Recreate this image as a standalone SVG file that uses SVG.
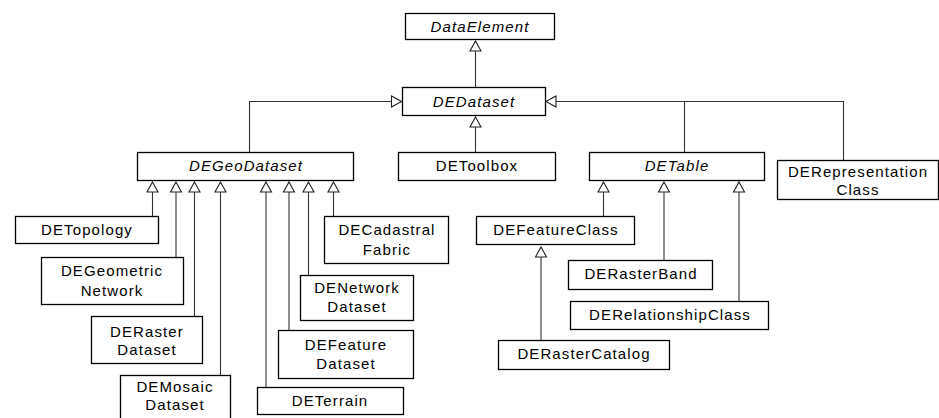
<svg xmlns="http://www.w3.org/2000/svg" width="939" height="418" viewBox="0 0 939 418">
  <style>
    .box { fill: #fff; stroke: #000; stroke-width: 1.3; }
    .lbl { font-family: "Liberation Sans", Arial, sans-serif; font-size: 15px; letter-spacing: 1.1px; fill: #000; text-anchor: middle; }
    .abs { font-style: italic; }
    .wire { fill: none; stroke: #333; stroke-width: 1.1; }
    .head { fill: #fff; stroke: #222; stroke-width: 1.1; stroke-linejoin: miter; }
  </style>
  <defs>
    <!-- hollow generalization arrowhead, apex at origin pointing up -->
    <path id="tri-up" class="head" d="M0,0 L5.5,10 L-5.5,10 Z"/>
  </defs>
  <rect width="939" height="418" fill="#fff"/>

  <!-- generalization connectors -->
  <g id="connectors">
    <!-- DEDataset -> DataElement -->
    <path class="wire" d="M475.5,87 V51"/>
    <use href="#tri-up" x="475.5" y="41"/>
    <!-- DEToolbox -> DEDataset -->
    <path class="wire" d="M475.5,152 V127"/>
    <use href="#tri-up" x="475.5" y="117"/>
    <!-- DEGeoDataset -> DEDataset -->
    <path class="wire" d="M249.5,152 V101.5 H391"/>
    <path class="head" d="M401.5,101.5 L391.5,96 L391.5,107 Z"/>
    <!-- DETable and DERepresentationClass -> DEDataset -->
    <path class="wire" d="M684.5,152 V101.5"/>
    <path class="wire" d="M843.5,160 V101.5 H556"/>
    <path class="head" d="M546,101.5 L556,96 L556,107 Z"/>

    <!-- children of DEGeoDataset -->
    <path class="wire" d="M152.5,192 V216"/>
    <use href="#tri-up" x="152.5" y="182"/>
    <path class="wire" d="M176,192 V257"/>
    <use href="#tri-up" x="176" y="182"/>
    <path class="wire" d="M194.5,192 V316"/>
    <use href="#tri-up" x="194.5" y="182"/>
    <path class="wire" d="M220.5,192 V375"/>
    <use href="#tri-up" x="220.5" y="182"/>
    <path class="wire" d="M266,192 V387"/>
    <use href="#tri-up" x="266" y="182"/>
    <path class="wire" d="M289,192 V330"/>
    <use href="#tri-up" x="289" y="182"/>
    <path class="wire" d="M308.5,192 V275"/>
    <use href="#tri-up" x="308.5" y="182"/>
    <path class="wire" d="M333.5,192 V216"/>
    <use href="#tri-up" x="333.5" y="182"/>

    <!-- children of DETable -->
    <path class="wire" d="M603.5,192 V216"/>
    <use href="#tri-up" x="603.5" y="182"/>
    <path class="wire" d="M664,192 V260"/>
    <use href="#tri-up" x="664" y="182"/>
    <path class="wire" d="M739,192 V301"/>
    <use href="#tri-up" x="739" y="182"/>

    <!-- DERasterCatalog -> DEFeatureClass -->
    <path class="wire" d="M541,257 V340"/>
    <use href="#tri-up" x="541" y="247"/>
  </g>

  <g id="DataElement">
    <rect class="box" x="405.5" y="13.5" width="149" height="26"/>
    <text class="lbl abs" x="480" y="32">DataElement</text>
  </g>
  <g id="DEDataset">
    <rect class="box" x="402.5" y="87.5" width="143" height="28"/>
    <text class="lbl abs" x="474" y="107">DEDataset</text>
  </g>
  <g id="DEGeoDataset">
    <rect class="box" x="137.5" y="152.5" width="216" height="28"/>
    <text class="lbl abs" x="246" y="171">DEGeoDataset</text>
  </g>
  <g id="DEToolbox">
    <rect class="box" x="398.5" y="152.5" width="157" height="28"/>
    <text class="lbl" x="477" y="171">DEToolbox</text>
  </g>
  <g id="DETable">
    <rect class="box" x="589.5" y="152.5" width="175" height="28"/>
    <text class="lbl abs" x="677" y="171">DETable</text>
  </g>
  <g id="DERepresentationClass">
    <rect class="box" x="777.5" y="160.5" width="161" height="39"/>
    <text class="lbl" x="858" y="177">DERepresentation</text>
    <text class="lbl" x="858" y="195">Class</text>
  </g>

  <g id="DETopology">
    <rect class="box" x="15.5" y="216.5" width="143" height="27"/>
    <text class="lbl" x="87" y="235">DETopology</text>
  </g>
  <g id="DEGeometricNetwork">
    <rect class="box" x="41.5" y="257.5" width="142" height="47"/>
    <text class="lbl" x="112" y="276">DEGeometric</text>
    <text class="lbl" x="112" y="296">Network</text>
  </g>
  <g id="DERasterDataset">
    <rect class="box" x="91.5" y="316.5" width="111" height="47"/>
    <text class="lbl" x="147" y="337">DERaster</text>
    <text class="lbl" x="147" y="355">Dataset</text>
  </g>
  <g id="DEMosaicDataset">
    <rect class="box" x="120.5" y="375.5" width="110" height="47"/>
    <text class="lbl" x="175" y="392">DEMosaic</text>
    <text class="lbl" x="175" y="410">Dataset</text>
  </g>
  <g id="DETerrain">
    <rect class="box" x="257.5" y="387.5" width="146" height="27"/>
    <text class="lbl" x="330" y="406">DETerrain</text>
  </g>
  <g id="DEFeatureDataset">
    <rect class="box" x="278.5" y="330.5" width="135" height="48"/>
    <text class="lbl" x="346" y="350">DEFeature</text>
    <text class="lbl" x="346" y="369">Dataset</text>
  </g>
  <g id="DENetworkDataset">
    <rect class="box" x="300.5" y="275.5" width="113" height="45"/>
    <text class="lbl" x="357" y="293">DENetwork</text>
    <text class="lbl" x="357" y="312">Dataset</text>
  </g>
  <g id="DECadastralFabric">
    <rect class="box" x="324.5" y="216.5" width="124" height="47"/>
    <text class="lbl" x="387" y="235">DECadastral</text>
    <text class="lbl" x="387" y="255">Fabric</text>
  </g>

  <g id="DEFeatureClass">
    <rect class="box" x="476.5" y="216.5" width="158" height="28"/>
    <text class="lbl" x="556" y="235">DEFeatureClass</text>
  </g>
  <g id="DERasterBand">
    <rect class="box" x="568.5" y="260.5" width="144" height="29"/>
    <text class="lbl" x="641" y="279">DERasterBand</text>
  </g>
  <g id="DERelationshipClass">
    <rect class="box" x="570.5" y="301.5" width="198" height="28"/>
    <text class="lbl" x="670" y="320">DERelationshipClass</text>
  </g>
  <g id="DERasterCatalog">
    <rect class="box" x="498.5" y="340.5" width="171" height="29"/>
    <text class="lbl" x="584" y="359">DERasterCatalog</text>
  </g>
</svg>
